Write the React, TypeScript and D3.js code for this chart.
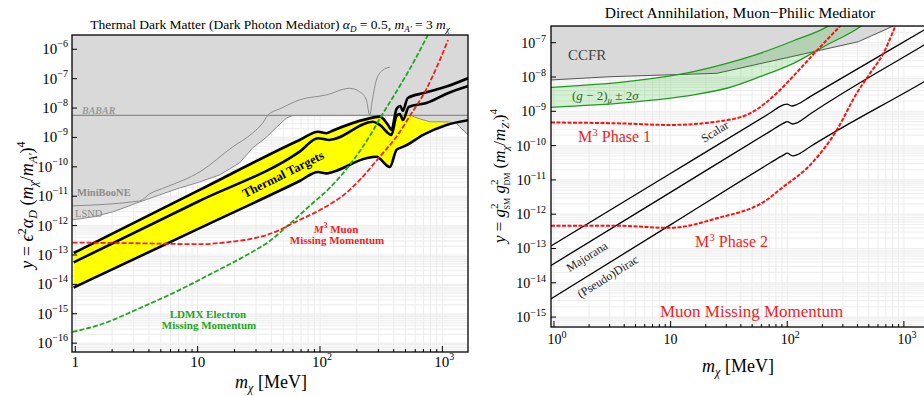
import * as d3 from 'd3';

type Pt = [number, number];

// ---------- left panel: thermal dark matter, dark photon mediator ----------
const babarLevel = 5.6e-9;

const lsndEdge: Pt[] = [
  [0.94, 1.56e-12], [1.385, 1.98e-12], [2.02, 2.92e-12], [3.36, 6.4e-12], [4.89, 1.11e-11],
  [7.13, 1.91e-11], [10.4, 3.06e-11], [15.1, 5.3e-11], [22, 1.36e-10], [28.2, 4.4e-10],
  [36.7, 1.04e-9], [44.3, 2.28e-9], [53.4, 4.6e-9], [59.8, 5.6e-9],
];

const miniBooNE: Pt[] = [
  [0.94, 4.7e-12], [3.36, 6.9e-12], [4.05, 1.2e-11], [5.58, 2.07e-11], [10.4, 6.7e-11],
  [19.3, 4.75e-10], [28.2, 1.42e-9], [34, 3.1e-9], [37.4, 5.6e-9], [48.6, 1.0e-8],
  [68.2, 1.9e-8], [113, 2.8e-8], [175, 4.7e-8], [211, 3.6e-8], [239, 1.9e-8],
  [255, 5.8e-9], [268, 1.9e-8], [289, 9.0e-8], [327, 1.98e-7], [372, 2.45e-7],
];

const babarRightEdge: Pt[] = [
  [560, 5.6e-9], [620, 4.6e-9], [791, 3.4e-9], [1113, 3.4e-9], [1304, 3.0e-9],
  [1387, 2.3e-9], [1620, 1.25e-9],
];

const thermalUpper: Pt[] = [
  [0.97, 1.17e-13], [10, 1.51e-11], [68.2, 8.2e-10], [96.3, 1.57e-9], [113, 1.39e-9],
  [125, 1.66e-9], [239, 4.2e-9], [308, 5.1e-9], [360, 2.66e-9], [384, 1.8e-9],
  [422, 9.3e-9], [453, 1.18e-8], [475, 8.0e-9], [521, 2.2e-8], [718, 3.3e-8],
  [1081, 5.4e-8], [1644, 1.06e-7],
];

const thermalMiddle: Pt[] = [
  [0.97, 5.6e-14], [10, 6.5e-12], [68.2, 3.3e-10], [96.3, 9.4e-10], [119, 8.2e-10],
  [271, 3.4e-9], [308, 2.66e-9], [384, 1.22e-9], [422, 5.4e-9], [449, 6.3e-9],
  [477, 3.9e-9], [531, 1.09e-8], [741, 1.49e-8], [1107, 3.2e-8], [1644, 5.65e-8],
];

const thermalLower: Pt[] = [
  [0.97, 7.8e-15], [10, 7.6e-13], [68.2, 3.3e-11], [96.3, 6.7e-11], [113, 6.0e-11],
  [127, 6.7e-11], [239, 1.96e-10], [289, 2.2e-10], [372, 9.9e-11], [422, 3.76e-10],
  [463, 4.6e-10], [493, 5.1e-10], [696, 1.22e-9], [1081, 2.66e-9], [1644, 3.9e-9],
];

const ldmxElectron: Pt[] = [
  [0.95, 2.42e-16], [1.58, 4.2e-16], [3.55, 1.72e-15], [7.13, 6.5e-15], [13.3, 2.46e-14],
  [25.2, 1.0e-13], [38.8, 3.0e-13], [56.5, 1.14e-12], [82.4, 4.7e-12], [120, 1.91e-11],
  [175, 1.16e-10], [255, 1.12e-9], [318, 5.4e-9], [449, 5.65e-8], [595, 4.3e-7],
  [760, 3.06e-6],
];

const m3Muon: Pt[] = [
  [0.95, 2.64e-13], [2.94, 2.52e-13], [10.4, 2.33e-13], [19.3, 2.86e-13], [25.2, 3.3e-13],
  [36.7, 4.8e-13], [46.8, 7.1e-13], [56.5, 1.06e-12], [68.2, 1.56e-12], [100, 3.4e-12],
  [175, 1.64e-11], [218, 4.1e-11], [308, 2.2e-10], [422, 1.06e-9], [541, 5.3e-9],
  [718, 3.5e-8], [953, 4.3e-7], [1113, 2.07e-6],
];

const leftYExps = [-16, -15, -14, -13, -12, -11, -10, -9, -8, -7, -6];
const leftXTicks = [1, 10, 100, 1000];
const leftXLabels = [['1', ''], ['10', ''], ['10', '2'], ['10', '3']];

// ---------- right panel: direct annihilation, muon-philic mediator ----------
const ccfr: Pt[] = [[0.943, 8.2e-9], [3.02, 1.02e-8], [24.9, 1.28e-8], [407, 1.07e-7], [813, 3.07e-7]];

const g2Upper: Pt[] = [
  [0.943, 5.0e-9], [4.2, 7.3e-9], [15.7, 1.43e-8], [30.3, 2.5e-8], [58.4, 4.9e-8],
  [113, 1.14e-7], [218, 2.9e-7], [300, 6e-7],
];
const g2Lower: Pt[] = [
  [0.943, 1.31e-9], [4.2, 1.78e-9], [15.7, 3.0e-9], [30.3, 4.7e-9], [58.4, 1.02e-8],
  [113, 2.5e-8], [218, 8.6e-8], [421, 2.9e-7], [600, 8e-7],
];

const phase1: Pt[] = [
  [0.943, 4.7e-10], [3.45, 4.47e-10], [9.88, 4.0e-10], [24.9, 5.0e-10], [48, 8.7e-10],
  [66.7, 1.87e-9], [86.8, 4.2e-9], [113, 1.07e-8], [157, 3.6e-8], [218, 1.2e-7],
  [284, 3.07e-7], [346, 6.5e-7],
];
const phase2: Pt[] = [
  [0.943, 4.6e-13], [3.45, 4.6e-13], [9.88, 4.0e-13], [24.9, 7.6e-13], [66.7, 2.6e-12],
  [92.6, 6.3e-12], [157, 2.7e-11], [266, 2.85e-10], [394, 3.35e-9], [513, 1.28e-8],
  [667, 4.9e-8], [840, 2.9e-7], [927, 6.5e-7],
];

const scalarLine: Pt[] = [
  [0.943, 1.18e-13], [9.88, 1.51e-11], [71.2, 8.9e-10], [92.6, 1.53e-9], [99.6, 1.63e-9],
  [109, 1.43e-9], [121, 1.58e-9], [157, 2.67e-9], [1490, 2.34e-7], [2000, 4.2e-7],
];
const majoranaLine: Pt[] = [
  [0.943, 3.2e-14], [9.88, 4.27e-12], [71.2, 2.6e-10], [92.6, 4.47e-10], [100, 5.0e-10],
  [111, 4.27e-10], [124, 4.8e-10], [157, 8.3e-10], [1490, 8.6e-8], [2000, 1.57e-7],
];
const diracLine: Pt[] = [
  [0.943, 3.4e-15], [9.88, 4.8e-13], [71.2, 3.1e-11], [92.6, 5.3e-11], [100, 6.0e-11],
  [111, 5.0e-11], [124, 5.6e-11], [157, 9.3e-11], [1490, 7.3e-9], [2000, 1.31e-8],
];

const rightYExps = [-15, -14, -13, -12, -11, -10, -9, -8, -7];
const rightXTicks = [1, 10, 100, 1000];
const rightXLabels = [['10', '0'], ['10', ''], ['10', '2'], ['10', '3']];

const grayFill = '#d9d9d9';
const grayLine = '#8c8c8c';
const redC = '#f21d1d';
const greenC = '#22a522';

function logGrid(lo: number, hi: number) {
  const out: number[] = [];
  for (let e = Math.floor(Math.log10(lo)); e <= Math.ceil(Math.log10(hi)); e++) {
    for (let k = 1; k < 10; k++) {
      const v = k * Math.pow(10, e);
      if (v >= lo && v <= hi) out.push(v);
    }
  }
  return out;
}

function LeftPanel() {
  const x = d3.scaleLog().domain([0.94, 1620]).range([72, 468]);
  const y = d3.scaleLog().domain([5e-17, 3.06e-6]).range([352, 35]);
  const smooth = d3.line<Pt>().x((d) => x(d[0])).y((d) => y(d[1])).curve(d3.curveMonotoneX);
  const straight = d3.line<Pt>().x((d) => x(d[0])).y((d) => y(d[1]));
  const [xa, xb] = x.domain();
  const top = y.domain()[1] * 3;

  const grayRegion: Pt[] = [
    [xa, top], [xb, top],
    ...babarRightEdge.slice().reverse(),
    ...lsndEdge.slice().reverse(),
  ];
  const band =
    smooth(thermalUpper) + 'L' + smooth(thermalLower.slice().reverse())!.slice(1) + 'Z';

  const gridX = logGrid(xa, xb);
  const gridY = logGrid(y.domain()[0], y.domain()[1]);

  return (
    <g fontFamily="'Liberation Serif', 'Times New Roman', serif">
      <defs>
        <clipPath id="clipL">
          <rect x={72} y={35} width={396} height={317} />
        </clipPath>
      </defs>
      <g clipPath="url(#clipL)">
        {gridY.map((v, i) => (
          <line key={'gy' + i} x1={72} x2={468} y1={y(v)} y2={y(v)} stroke="#efefef" strokeWidth={1.2} />
        ))}
        {gridX.map((v, i) => (
          <line key={'gx' + i} x1={x(v)} x2={x(v)} y1={35} y2={352} stroke="#ececec" />
        ))}
        <path d={band} fill="#ffff00" />
        <path d={straight(grayRegion) + 'Z'} fill={grayFill} />
        <line x1={72} x2={468} y1={y(babarLevel)} y2={y(babarLevel)} stroke={grayLine} strokeWidth={1.2} />
        <path d={straight(lsndEdge)!} fill="none" stroke={grayLine} strokeWidth={1} />
        <path d={straight(babarRightEdge)!} fill="none" stroke={grayLine} strokeWidth={1} />
        <path d={smooth(miniBooNE)!} fill="none" stroke={grayLine} strokeWidth={1} />
        {[thermalUpper, thermalMiddle, thermalLower].map((c, i) => (
          <path key={'t' + i} d={smooth(c)!} fill="none" stroke="#000" strokeWidth={2.6} strokeLinejoin="round" />
        ))}
        <path d={smooth(ldmxElectron)!} fill="none" stroke={greenC} strokeWidth={1.8} strokeDasharray="5,2" />
        <path d={smooth(m3Muon)!} fill="none" stroke={redC} strokeWidth={1.8} strokeDasharray="5,2" />
      </g>
      <rect x={72} y={35} width={396} height={317} fill="none" stroke="#000" strokeWidth={1.3} />

      {leftYExps.map((e) => (
        <g key={'ly' + e}>
          <line x1={72} x2={77} y1={y(Math.pow(10, e))} y2={y(Math.pow(10, e))} stroke="#000" />
          <text x={68} y={y(Math.pow(10, e)) + 5} textAnchor="end" fontSize={15}>
            10<tspan fontSize={10} dy={-7}>{'\u2212' + Math.abs(e)}</tspan>
          </text>
        </g>
      ))}
      {gridX.map((v, i) => (
        <line key={'lxt' + i} x1={x(v)} x2={x(v)} y1={352} y2={leftXTicks.includes(v) ? 346 : 349} stroke="#000" />
      ))}
      {leftXTicks.map((v, i) => (
        <text key={'lx' + i} x={x(v) + (leftXLabels[i][1] ? 2 : 0)} y={367} textAnchor="middle" fontSize={15}>
          {leftXLabels[i][0]}
          {leftXLabels[i][1] && <tspan fontSize={10} dy={-7}>{leftXLabels[i][1]}</tspan>}
        </text>
      ))}

      <text x={270} y={29} textAnchor="middle" fontSize={13.5}>
        {'Thermal Dark Matter (Dark Photon Mediator) '}
        <tspan fontStyle="italic">α</tspan>
        <tspan fontStyle="italic" fontSize={9} baselineShift={-3}>D</tspan>
        {' = 0.5, '}
        <tspan fontStyle="italic">m</tspan>
        <tspan fontStyle="italic" fontSize={9} baselineShift={-3}>A'</tspan>
        {' = 3 '}
        <tspan fontStyle="italic">m</tspan>
        <tspan fontStyle="italic" fontSize={9} baselineShift={-3}>χ</tspan>
      </text>

      <text transform="translate(33,205) rotate(-90)" textAnchor="middle" fontSize={18}>
        <tspan fontStyle="italic">y</tspan>
        {' = '}
        <tspan fontStyle="italic">ϵ</tspan>
        <tspan fontSize={12} baselineShift={7}>2</tspan>
        <tspan fontStyle="italic">α</tspan>
        <tspan fontStyle="italic" fontSize={12} baselineShift={-4}>D</tspan>
        {' ('}
        <tspan fontStyle="italic">m</tspan>
        <tspan fontStyle="italic" fontSize={12} baselineShift={-4}>χ</tspan>
        {'/'}
        <tspan fontStyle="italic">m</tspan>
        <tspan fontStyle="italic" fontSize={12} baselineShift={-4}>A'</tspan>
        {')'}
        <tspan fontSize={12} baselineShift={8}>4</tspan>
      </text>

      <text x={271} y={388} textAnchor="middle" fontSize={18}>
        <tspan fontStyle="italic">m</tspan>
        <tspan fontStyle="italic" fontSize={12} baselineShift={-4}>χ</tspan>
        {' [MeV]'}
      </text>

      <text x={82} y={114} fontSize={10} fontStyle="italic" fontWeight="bold" fill="#9a9a9a">BABAR</text>
      <text x={77} y={196} fontSize={10.5} fontWeight="bold" fill="#8a8a8a">MiniBooNE</text>
      <text x={75} y={217} fontSize={10.5} fill="#8a8a8a">LSND</text>

      <text transform="translate(285,178) rotate(-26.5)" textAnchor="middle" fontSize={12.5} fontWeight="bold">
        Thermal Targets
      </text>

      <text x={336} y={233} textAnchor="middle" fontSize={11} fontWeight="bold" fill={redC}>
        <tspan fontStyle="italic">M</tspan>
        <tspan fontSize={8} baselineShift={5}>3</tspan>
        {' Muon'}
      </text>
      <text x={337} y={244} textAnchor="middle" fontSize={11} fontWeight="bold" fill={redC}>
        Missing Momentum
      </text>
      <text x={208} y={318} textAnchor="middle" fontSize={11} fontWeight="bold" fill={greenC}>
        LDMX Electron
      </text>
      <text x={209} y={329} textAnchor="middle" fontSize={11} fontWeight="bold" fill={greenC}>
        Missing Momentum
      </text>
    </g>
  );
}

function RightPanel() {
  const x = d3.scaleLog().domain([0.943, 2000]).range([551, 939]);
  const y = d3.scaleLog().domain([5.14e-16, 3.07e-7]).range([327, 26]);
  const smooth = d3.line<Pt>().x((d) => x(d[0])).y((d) => y(d[1])).curve(d3.curveMonotoneX);
  const straight = d3.line<Pt>().x((d) => x(d[0])).y((d) => y(d[1]));
  const [xa, xb] = x.domain();
  const top = y.domain()[1] * 3;

  const ccfrRegion: Pt[] = [...ccfr, [813, top], [xa, top]];
  const g2Band =
    smooth(g2Upper) + 'L' + smooth(g2Lower.slice().reverse())!.slice(1) + 'Z';

  const gridX = logGrid(xa, xb);
  const gridY = logGrid(y.domain()[0], y.domain()[1]);

  return (
    <g fontFamily="'Liberation Serif', 'Times New Roman', serif">
      <defs>
        <clipPath id="clipR">
          <rect x={551} y={26} width={388} height={301} />
        </clipPath>
      </defs>
      <g clipPath="url(#clipR)">
        {gridY.map((v, i) => (
          <line key={'gy' + i} x1={551} x2={939} y1={y(v)} y2={y(v)} stroke="#f0f0f0" strokeWidth={1.2} />
        ))}
        {gridX.map((v, i) => (
          <line key={'gx' + i} x1={x(v)} x2={x(v)} y1={26} y2={327} stroke="#ededed" />
        ))}
        <path d={straight(ccfrRegion) + 'Z'} fill={grayFill} />
        <path d={straight(ccfr)!} fill="none" stroke="#555" strokeWidth={1} />
        <path d={g2Band} fill="rgb(0,170,0)" fillOpacity={0.17} />
        <path d={smooth(g2Upper)!} fill="none" stroke="#1f9a1f" strokeWidth={1.3} />
        <path d={smooth(g2Lower)!} fill="none" stroke="#1f9a1f" strokeWidth={1.3} />
        {[scalarLine, majoranaLine, diracLine].map((c, i) => (
          <path key={'b' + i} d={smooth(c)!} fill="none" stroke="#000" strokeWidth={1.3} />
        ))}
        <path d={smooth(phase1)!} fill="none" stroke="#ff1010" strokeWidth={2} strokeDasharray="4,1.5" />
        <path d={smooth(phase2)!} fill="none" stroke="#ff1010" strokeWidth={2} strokeDasharray="4,1.5" />
      </g>
      <rect x={551} y={26} width={388} height={301} fill="none" stroke="#000" strokeWidth={1.3} />

      {rightYExps.map((e) => (
        <g key={'ry' + e}>
          <line x1={551} x2={556} y1={y(Math.pow(10, e))} y2={y(Math.pow(10, e))} stroke="#000" />
          <text x={546} y={y(Math.pow(10, e)) + 5} textAnchor="end" fontSize={14}>
            10<tspan fontSize={10} dy={-6}>{'\u2212' + Math.abs(e)}</tspan>
          </text>
        </g>
      ))}
      {gridX.map((v, i) => (
        <line key={'rxt' + i} x1={x(v)} x2={x(v)} y1={327} y2={rightXTicks.includes(v) ? 321 : 324} stroke="#000" />
      ))}
      {rightXTicks.map((v, i) => (
        <text key={'rx' + i} x={x(v) + (rightXLabels[i][1] ? 3 : 0)} y={344} textAnchor="middle" fontSize={14}>
          {rightXLabels[i][0]}
          {rightXLabels[i][1] && <tspan fontSize={10} dy={-6}>{rightXLabels[i][1]}</tspan>}
        </text>
      ))}

      <text x={740} y={18} textAnchor="middle" fontSize={15.5}>
        Direct Annihilation, Muon−Philic Mediator
      </text>

      <text transform="translate(505,176) rotate(-90)" textAnchor="middle" fontSize={17}>
        <tspan fontStyle="italic">y</tspan>
        {' = '}
        <tspan fontStyle="italic">g</tspan>
        <tspan fontSize={11} baselineShift={7}>2</tspan>
        <tspan fontSize={8} dx={-6} baselineShift={-5}>SM</tspan>
        {' '}
        <tspan fontStyle="italic">g</tspan>
        <tspan fontSize={11} baselineShift={7}>2</tspan>
        <tspan fontSize={8} dx={-6} baselineShift={-5}>DM</tspan>
        {' ('}
        <tspan fontStyle="italic">m</tspan>
        <tspan fontStyle="italic" fontSize={11} baselineShift={-4}>χ</tspan>
        {'/'}
        <tspan fontStyle="italic">m</tspan>
        <tspan fontStyle="italic" fontSize={11} baselineShift={-4}>Z'</tspan>
        {')'}
        <tspan fontSize={11} baselineShift={8}>4</tspan>
      </text>

      <text x={738} y={372} textAnchor="middle" fontSize={18}>
        <tspan fontStyle="italic">m</tspan>
        <tspan fontStyle="italic" fontSize={12} baselineShift={-4}>χ</tspan>
        {' [MeV]'}
      </text>

      <text x={568} y={60} fontSize={15} fill="#444">CCFR</text>
      <text x={572} y={100} fontSize={13} fill="#2a6a2a">
        {'('}
        <tspan fontStyle="italic">g</tspan>
        {' − 2)'}
        <tspan fontStyle="italic" fontSize={9} baselineShift={-3}>μ</tspan>
        {' ± 2'}
        <tspan fontStyle="italic">σ</tspan>
      </text>
      <text x={578} y={142} fontSize={16} fill={redC}>
        M<tspan fontSize={11} baselineShift={6}>3</tspan>
        {' Phase 1'}
      </text>
      <text x={695} y={247} fontSize={16} fill={redC}>
        M<tspan fontSize={11} baselineShift={6}>3</tspan>
        {' Phase 2'}
      </text>
      <text x={660} y={317} fontSize={17} fill={redC}>
        Muon Missing Momentum
      </text>

      <text transform="translate(717,135) rotate(-32)" textAnchor="middle" fontSize={12} fill="#222">
        Scalar
      </text>
      <text transform="translate(589,260) rotate(-32)" textAnchor="middle" fontSize={12} fill="#222">
        Majorana
      </text>
      <text transform="translate(610,280) rotate(-32)" textAnchor="middle" fontSize={12} fill="#222">
        (Pseudo)Dirac
      </text>
    </g>
  );
}

export default function App() {
  return (
    <svg
      width={924}
      height={396}
      style={{ position: 'absolute', left: 0, top: 0, background: '#fff' }}
    >
      <rect width={924} height={396} fill="#fff" />
      <LeftPanel />
      <RightPanel />
    </svg>
  );
}
